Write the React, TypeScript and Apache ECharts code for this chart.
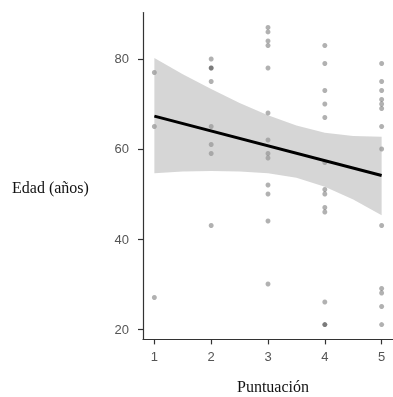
import React, { useEffect, useRef } from "react";
import * as echarts from "echarts";

// Edad (años) por puntuación
const score1 = [77, 65, 27];
const score2 = [80, 78, 78, 75, 65, 61, 59, 43];
const score3 = [87, 86, 84, 83, 78, 68, 62, 59, 58, 52, 50, 44, 30];
const score4 = [83, 79, 73, 70, 67, 57, 51, 50, 47, 46, 26, 21, 21];
const score5 = [79, 75, 73, 71, 70, 69, 65, 60, 43, 29, 28, 25, 21];

// Regression fit and confidence band
const fitX = [1, 5];
const fitY = [67.3, 54.1];
const bandX = [1, 1.5, 2, 2.5, 3, 3.5, 4, 4.5, 5];
const bandUpper = [80.2, 76.6, 73.3, 70.2, 67.5, 65.2, 63.6, 62.9, 62.7];
const bandLower = [54.6, 55.0, 55.1, 55.0, 54.6, 53.6, 51.6, 48.8, 45.3];

const xTicks = [1, 2, 3, 4, 5];
const yTicks = [20, 40, 60, 80];

export default function App() {
  const ref = useRef<HTMLDivElement>(null);
  useEffect(() => {
    if (!ref.current) return;
    const chart = echarts.init(ref.current, undefined, { renderer: "svg" });
    const groups = [score1, score2, score3, score4, score5];
    const points: number[][] = [];
    groups.forEach((g, i) => g.forEach((v) => points.push([i + 1, v])));
    const axisCommon = {
      type: "value" as const,
      splitLine: { show: false },
      axisLine: { show: true, lineStyle: { color: "#333", width: 1.2 } },
      axisTick: { show: true, length: 5, lineStyle: { color: "#333", width: 1.2 } },
    };
    chart.setOption({
      animation: false,
      grid: { left: 143, right: -7, top: 12.6, bottom: 57.6, containLabel: false },
      xAxis: {
        ...axisCommon,
        min: 0.8,
        max: 5.2,
        axisTick: { ...axisCommon.axisTick, customValues: xTicks },
        axisLabel: {
          customValues: xTicks,
          color: "#555",
          fontSize: 13,
          fontFamily: "Liberation Sans",
          margin: 11,
        },
      },
      yAxis: {
        ...axisCommon,
        min: 17.7,
        max: 90.3,
        axisTick: { ...axisCommon.axisTick, customValues: yTicks },
        axisLabel: {
          customValues: yTicks,
          color: "#555",
          fontSize: 13,
          fontFamily: "Liberation Sans",
          margin: 14,
        },
      },
      series: [
        {
          type: "scatter",
          data: points,
          symbolSize: 5,
          itemStyle: { color: "rgba(0,0,0,0.38)" },
          z: 1,
        },
        {
          type: "custom",
          data: [0],
          z: 2,
          silent: true,
          renderItem: (_params: any, api: any) => {
            const up = bandX.map((x, i) => api.coord([x, bandUpper[i]]));
            const lo = bandX.map((x, i) => api.coord([x, bandLower[i]])).reverse();
            return {
              type: "polygon",
              shape: { points: [...up, ...lo] },
              style: { fill: "rgba(153,153,153,0.4)" },
            };
          },
        },
        {
          type: "line",
          data: fitX.map((x, i) => [x, fitY[i]]),
          symbol: "none",
          lineStyle: { color: "#000", width: 3 },
          z: 3,
        },
      ],
      graphic: [
        {
          type: "text",
          left: 12,
          top: 179,
          style: {
            text: "Edad (años)",
            fontFamily: "Liberation Serif",
            fontSize: 16,
            fill: "#111",
          },
        },
        {
          type: "text",
          left: 237,
          top: 378,
          style: {
            text: "Puntuación",
            fontFamily: "Liberation Serif",
            fontSize: 16,
            fill: "#111",
          },
        },
      ],
    });
    return () => chart.dispose();
  }, []);
  return (
    <div
      ref={ref}
      style={{ position: "fixed", left: 0, top: 0, width: 393, height: 397 }}
    />
  );
}
